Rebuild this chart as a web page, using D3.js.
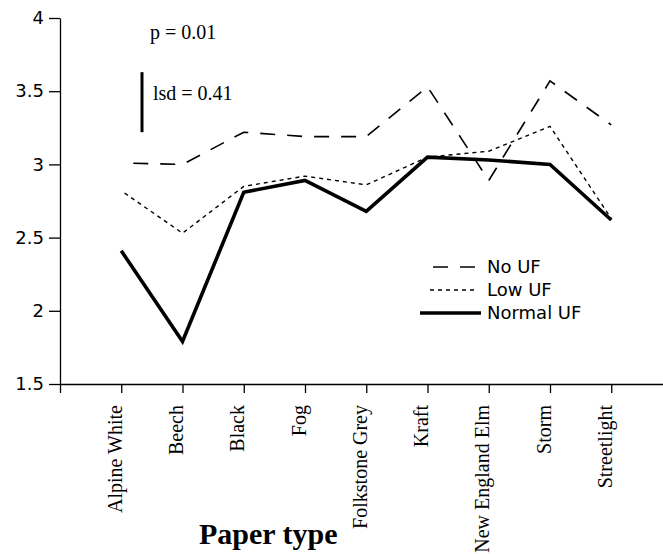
<!DOCTYPE html>
<html>
<head>
<meta charset="utf-8">
<script src="https://cdn.jsdelivr.net/npm/d3@7"></script>
<style>
  body { margin: 0; background: #fff; }
  svg { display: block; background: #fff; }
  .tick text.ylab { font-family: "DejaVu Sans", sans-serif; font-size: 18px; fill: #000; }
  .cat { font-family: "Liberation Serif", "Times New Roman", serif; font-size: 20px; fill: #000; }
  .note { font-family: "Liberation Serif", "Times New Roman", serif; font-size: 20px; fill: #000; }
  .legend text { font-family: "DejaVu Sans", sans-serif; font-size: 18px; fill: #000; }
</style>
</head>
<body>
<svg width="663" height="554"></svg>
<script>
var categories = ["Alpine White", "Beech", "Black", "Fog", "Folkstone Grey", "Kraft", "New England Elm", "Storm", "Streetlight"];
var noUF     = [3.01, 3.00, 3.22, 3.19, 3.19, 3.53, 2.89, 3.57, 3.27];
var lowUF    = [2.82, 2.53, 2.85, 2.92, 2.86, 3.05, 3.09, 3.26, 2.63];
var normalUF = [2.41, 1.79, 2.81, 2.89, 2.68, 3.05, 3.03, 3.00, 2.62];
var yTicks = [1.5, 2, 2.5, 3, 3.5, 4];
var seriesNames = ["No UF", "Low UF", "Normal UF"];
var lsd = 0.41;

var svg = d3.select("svg");

// scale x: posizione 0 = asse y, categorie da 1 a 9
var x = d3.scaleLinear().domain([0, 10]).range([60, 672.5]);
var y = d3.scaleLinear().domain([1.5, 4]).range([384, 18]);

// stile delle tre serie
var stili = [
  {dash: "15,12", off: 15, w: 1.6},
  {dash: "4,4", off: 4, w: 1.4},
  {dash: null, off: 0, w: 3.6}
];
var serie = [noUF, lowUF, normalUF];

// asse y
var gy = svg.append("g").attr("transform", "translate(60,0)")
  .call(d3.axisLeft(y).tickValues(yTicks).tickSize(11).tickSizeOuter(0).tickPadding(5)
          .tickFormat(function(d){ return d; }));
gy.selectAll("text").attr("class", "ylab");
gy.selectAll("line, path").attr("stroke", "#000").attr("stroke-width", 1.3);

// asse x
var gx = svg.append("g").attr("transform", "translate(0,384)")
  .call(d3.axisBottom(x).tickValues(d3.range(0, 10)).tickSize(9).tickSizeOuter(0)
          .tickFormat(function(d){ return d == 0 ? "" : categories[d-1]; }));
gx.selectAll("line, path").attr("stroke", "#000").attr("stroke-width", 1.3);
gx.selectAll("text")
  .attr("class", "cat")
  .attr("transform", "rotate(-90)")
  .attr("text-anchor", "end")
  .attr("x", -21)
  .attr("y", 0)
  .attr("dy", 0);

svg.append("text")
  .attr("x", 199)
  .attr("y", 544)
  .attr("font-family", "Liberation Serif, serif")
  .attr("font-weight", "bold")
  .attr("font-size", 30)
  .text("Paper type");

// linee
var line = d3.line()
  .x(function(d, i){ return x(i + 1); })
  .y(function(d){ return y(d); });

serie.forEach(function(s, k){
  svg.append("path")
    .datum(s)
    .attr("d", line)
    .attr("fill", "none")
    .attr("stroke", "#000")
    .attr("stroke-width", stili[k].w)
    .attr("stroke-linejoin", "miter")
    .attr("stroke-dasharray", stili[k].dash)
    .attr("stroke-dashoffset", stili[k].off);
});

// p e lsd
svg.append("text").attr("class", "note").attr("x", 150).attr("y", 39).text("p = 0.01");
svg.append("line")
  .attr("x1", 142).attr("x2", 142)
  .attr("y1", y(3.63)).attr("y2", y(3.63 - lsd))
  .attr("stroke", "#000").attr("stroke-width", 3);
svg.append("text").attr("class", "note").attr("x", 153).attr("y", 100).text("lsd = " + lsd);

// legenda
var legend = svg.append("g").attr("class", "legend");
var legY = [267, 290, 313];
var legX1 = [421, 426, 420];
seriesNames.forEach(function(n, k){
  legend.append("line")
    .attr("x1", legX1[k]).attr("x2", k == 2 ? 481 : 475)
    .attr("y1", legY[k]).attr("y2", legY[k])
    .attr("stroke", "#000")
    .attr("stroke-width", stili[k].w)
    .attr("stroke-dasharray", stili[k].dash)
    .attr("stroke-dashoffset", stili[k].off);
  legend.append("text")
    .attr("x", 487)
    .attr("y", legY[k])
    .attr("dy", "0.36em")
    .text(n);
});
</script>
</body>
</html>
